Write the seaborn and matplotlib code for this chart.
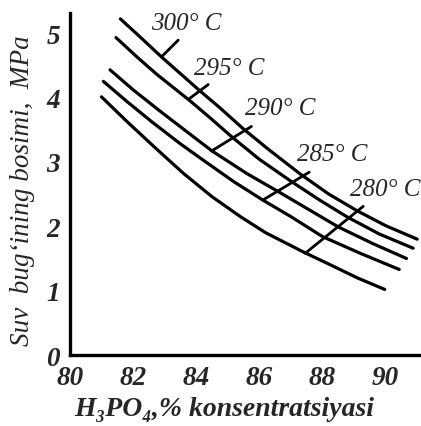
import matplotlib
matplotlib.use('Agg')
import matplotlib.pyplot as plt
import seaborn as sns

# curves (H3PO4 %, MPa)
x_300 = [81.6, 82.2, 82.9, 83.5, 84.1, 84.75, 85.5, 86.3, 87.3, 88.2, 89.1, 90.0, 91.0]
y_300 = [5.22, 4.95, 4.63, 4.37, 4.11, 3.84, 3.51, 3.19, 2.81, 2.50, 2.24, 2.01, 1.80]

x_295 = [81.46, 82.1, 82.75, 83.8, 84.45, 85.1, 86.0, 87.0, 87.9, 88.8, 89.8, 90.87]
y_295 = [4.93, 4.64, 4.36, 3.95, 3.68, 3.40, 3.04, 2.70, 2.41, 2.14, 1.88, 1.66]

x_290 = [81.27, 82.0, 82.85, 83.7, 84.5, 85.6, 86.7, 87.6, 88.5, 89.6, 90.66]
y_290 = [4.43, 4.12, 3.79, 3.47, 3.17, 2.82, 2.51, 2.25, 1.99, 1.73, 1.50]

x_285 = [81.06, 81.8, 82.6, 83.5, 84.3, 85.2, 86.1, 87.0, 88.0, 89.2, 90.43]
y_285 = [4.25, 3.94, 3.62, 3.28, 3.00, 2.69, 2.41, 2.15, 1.84, 1.58, 1.33]

x_280 = [81.0, 81.8, 82.7, 83.6, 84.5, 85.4, 86.2, 87.4, 88.3, 89.1, 89.97]
y_280 = [4.01, 3.63, 3.22, 2.82, 2.46, 2.15, 1.90, 1.60, 1.39, 1.20, 1.02]

curves = [(x_300, y_300), (x_295, y_295), (x_290, y_290), (x_285, y_285), (x_280, y_280)]

# short marker lines and their labels
temp_labels = ['300° C', '295° C', '290° C', '285° C', '280° C']
lead_x0 = [82.9, 83.78, 84.49, 86.12, 87.45]
lead_y0 = [4.63, 3.98, 3.17, 2.41, 1.58]
lead_x1 = [83.43, 84.38, 85.75, 87.58, 89.29]
lead_y1 = [4.89, 4.20, 3.55, 2.84, 2.31]
label_x = [83.70, 85.03, 86.65, 88.30, 89.97]
label_y = [5.16, 4.45, 3.84, 3.13, 2.58]

x_ticks = [80, 82, 84, 86, 88, 90]
y_ticks = [0, 1, 2, 3, 4, 5]

sns.set_style('white')
plt.rcParams['font.family'] = ['Liberation Serif', 'DejaVu Serif']

fig = plt.figure(figsize=(4.21, 4.27), dpi=100)
ax = fig.add_axes([0.166, 0.166, 0.831, 0.801])

for cx, cy in curves:
    sns.lineplot(x=cx, y=cy, ax=ax, color='black', linewidth=2.3,
                 estimator=None, sort=False)

for i in range(len(temp_labels)):
    ax.plot([lead_x0[i], lead_x1[i]], [lead_y0[i], lead_y1[i]],
            color='black', linewidth=2.0)
    ax.text(label_x[i], label_y[i], temp_labels[i], fontsize=18,
            style='italic', ha='center', va='center')

ax.set_xlim(80, 91.08)
ax.set_ylim(0, 5.31)
ax.set_xticks(x_ticks)
ax.set_yticks(y_ticks)
ax.set_xticklabels([str(t) for t in x_ticks], fontsize=19.5, style='italic', fontweight='bold')
ax.set_yticklabels([str(t) for t in y_ticks], fontsize=19.5, style='italic', fontweight='bold')
ax.tick_params(direction='in', length=9, width=2.2, pad=7)
ax.xaxis.get_major_ticks()[0].tick1line.set_visible(False)
ax.yaxis.get_major_ticks()[0].tick1line.set_visible(False)

sns.despine(ax=ax)
for side in ['left', 'bottom']:
    ax.spines[side].set_linewidth(2.4)
    ax.spines[side].set_color('black')

ax.set_xlabel('H₃PO₄,% konsentratsiyasi', fontsize=20, style='italic',
              fontweight='bold')
ax.set_ylabel('Suv  bug‘ining bosimi,  MPa', fontsize=19.5, style='italic')
ax.xaxis.set_label_coords(0.44, -0.12)
ax.yaxis.set_label_coords(-0.10, 0.485)

fig.savefig('out.png', dpi=100)
